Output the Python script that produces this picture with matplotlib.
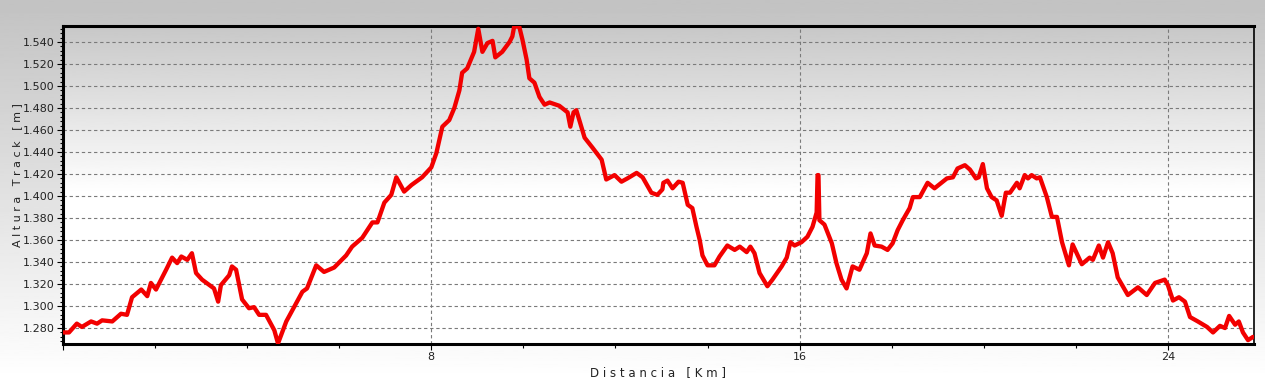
import numpy as np
import matplotlib
matplotlib.use("Agg")
import matplotlib.pyplot as plt
from matplotlib.ticker import MultipleLocator, FuncFormatter

# distance along the track (km) and altitude (m)
dist_km = [0.0, 0.13, 0.30, 0.41, 0.61, 0.74, 0.85, 1.07, 1.26, 1.39,
           1.50, 1.70, 1.83, 1.91, 2.02, 2.24, 2.37, 2.48, 2.57, 2.70,
           2.80, 2.89, 3.02, 3.28, 3.37, 3.43, 3.61, 3.67, 3.76, 3.89,
           4.04, 4.15, 4.26, 4.41, 4.59, 4.67, 4.85, 4.98, 5.20, 5.30,
           5.50, 5.67, 5.89, 6.15, 6.28, 6.50, 6.72, 6.83, 6.98, 7.13,
           7.24, 7.41, 7.57, 7.80, 8.00, 8.11, 8.24, 8.39, 8.50, 8.61,
           8.67, 8.78, 8.93, 9.02, 9.11, 9.22, 9.33, 9.39, 9.54, 9.70,
           9.76, 9.80, 9.91, 9.98, 10.07, 10.13, 10.24, 10.35, 10.46, 10.57,
           10.78, 10.96, 11.02, 11.09, 11.15, 11.33, 11.50, 11.70, 11.80, 11.98,
           12.13, 12.26, 12.46, 12.59, 12.78, 12.91, 13.02, 13.04, 13.13, 13.24,
           13.37, 13.46, 13.57, 13.67, 13.76, 13.83, 13.89, 14.00, 14.15, 14.26,
           14.43, 14.59, 14.70, 14.85, 14.93, 15.02, 15.13, 15.30, 15.41, 15.61,
           15.72, 15.80, 15.89, 16.04, 16.17, 16.28, 16.37, 16.39, 16.41, 16.43,
           16.54, 16.70, 16.80, 16.91, 17.02, 17.15, 17.30, 17.46, 17.54, 17.63,
           17.78, 17.91, 18.02, 18.13, 18.24, 18.39, 18.46, 18.61, 18.78, 18.93,
           19.20, 19.33, 19.43, 19.59, 19.70, 19.83, 19.89, 19.98, 20.07, 20.17,
           20.28, 20.39, 20.48, 20.57, 20.72, 20.78, 20.89, 20.96, 21.04, 21.15,
           21.22, 21.37, 21.48, 21.59, 21.70, 21.85, 21.93, 22.13, 22.30, 22.37,
           22.50, 22.59, 22.70, 22.80, 22.91, 23.13, 23.35, 23.54, 23.72, 23.93,
           24.00, 24.11, 24.24, 24.37, 24.48, 24.65, 24.85, 24.98, 25.13, 25.24,
           25.33, 25.46, 25.54, 25.63, 25.74, 25.85]

alt_m = [1276, 1276, 1284, 1281, 1286, 1284, 1287, 1286, 1293, 1292,
         1308, 1315, 1309, 1321, 1315, 1333, 1344, 1339, 1345, 1342,
         1348, 1330, 1324, 1316, 1304, 1319, 1328, 1336, 1333, 1306,
         1298, 1299, 1292, 1292, 1278, 1266, 1286, 1296, 1313, 1316,
         1337, 1331, 1335, 1346, 1354, 1362, 1376, 1376, 1394, 1401,
         1417, 1404, 1410, 1417, 1426, 1439, 1463, 1469, 1480, 1496,
         1512, 1516, 1531, 1552, 1531, 1539, 1541, 1526, 1531, 1540,
         1545, 1554, 1554, 1542, 1524, 1507, 1503, 1490, 1483, 1485,
         1482, 1476, 1463, 1476, 1478, 1453, 1444, 1433, 1415, 1419,
         1413, 1416, 1421, 1417, 1403, 1401, 1406, 1412, 1414, 1407,
         1413, 1412, 1392, 1389, 1372, 1360, 1346, 1337, 1337, 1345,
         1355, 1351, 1354, 1349, 1354, 1348, 1330, 1318, 1324, 1336,
         1344, 1358, 1355, 1358, 1363, 1372, 1385, 1419, 1419, 1378,
         1374, 1357, 1339, 1324, 1316, 1336, 1333, 1348, 1366, 1355,
         1354, 1351, 1357, 1369, 1378, 1389, 1399, 1399, 1412, 1407,
         1416, 1417, 1425, 1428, 1424, 1416, 1417, 1429, 1407, 1399,
         1396, 1382, 1403, 1403, 1412, 1407, 1419, 1416, 1419, 1416,
         1417, 1399, 1381, 1381, 1358, 1337, 1356, 1338, 1344, 1342,
         1355, 1344, 1358, 1348, 1326, 1310, 1317, 1310, 1321, 1324,
         1319, 1305, 1308, 1304, 1290, 1286, 1281, 1276, 1282, 1280,
         1291, 1283, 1286, 1276, 1269, 1272]

x_min, x_max = 0, 25.87
y_min, y_max = 1265.5, 1554.5

fig = plt.figure(figsize=(12.65, 3.8), dpi=100)

# grey-to-white background behind everything
bg = fig.add_axes([0, 0, 1, 1], zorder=-10)
grad = np.linspace(0, 1, 256).reshape(-1, 1)
bg.imshow(grad, cmap=plt.cm.gray, vmin=-3.2, vmax=1.0, aspect="auto",
          extent=[0, 1, 0, 1], origin="upper")
bg.axis("off")

ax = fig.add_axes([63 / 1265, 1 - 344 / 380, (1254 - 63) / 1265, (344 - 26) / 380])
ax.patch.set_alpha(0)

# plot area gradient: grey at top fading to white around the middle
g2 = np.clip(np.linspace(0, 1.9, 256), 0, 1).reshape(-1, 1)
ax.imshow(g2, cmap=plt.cm.gray, vmin=-3.6, vmax=1.0, aspect="auto",
          extent=[x_min, x_max, y_min, y_max], origin="upper", zorder=0)

ax.plot(dist_km, alt_m, color="#f20000", lw=3.1, solid_joinstyle="round",
        solid_capstyle="round", zorder=3)

ax.set_xlim(x_min, x_max)
ax.set_ylim(y_min, y_max)

ax.xaxis.set_major_locator(MultipleLocator(8))
ax.xaxis.set_minor_locator(MultipleLocator(2))
ax.yaxis.set_major_locator(MultipleLocator(20))
ax.yaxis.set_minor_locator(MultipleLocator(4))
ax.xaxis.set_major_formatter(FuncFormatter(lambda v, p: "" if v == 0 else "%d" % v))
ax.yaxis.set_major_formatter(FuncFormatter(lambda v, p: "%.3f" % (v / 1000)))

ax.grid(which="major", color="#7a7a7a", linestyle=(0, (3, 2.5)), lw=0.8, zorder=1)
ax.tick_params(which="major", length=4, width=0.8, labelsize=8,
               labelcolor="#222222", pad=2)
ax.tick_params(which="minor", length=3, width=0.8)
ax.tick_params(axis="y", which="minor", length=2)

for s in ["top", "bottom", "left"]:
    ax.spines[s].set_linewidth(2.2)
ax.spines["right"].set_linewidth(1.2)

ax.set_xlabel("D i s t a n c i a   [ K m ]", fontsize=8.5, color="#222222",
              labelpad=3)
ax.set_ylabel("A l t u r a   T r a c k   [ m ]", fontsize=8, color="#222222")
ax.yaxis.set_label_coords(-0.034, 0.53)

plt.savefig("out.png", dpi=100)
